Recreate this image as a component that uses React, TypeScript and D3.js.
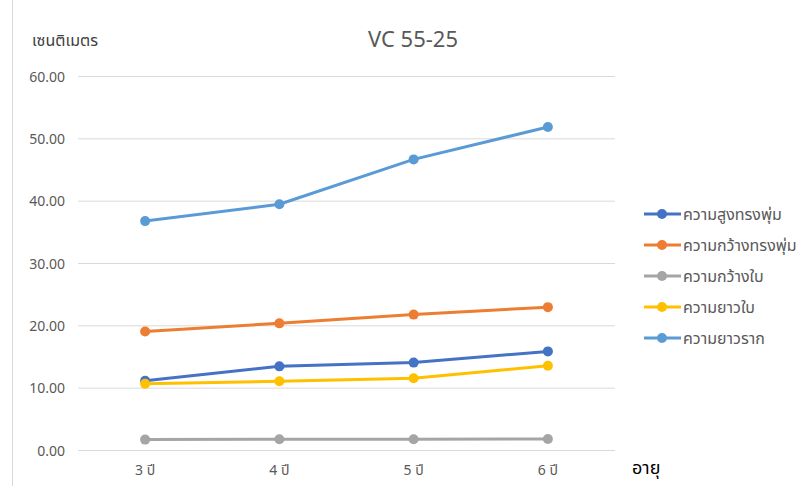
import React from "react";
import * as d3 from "d3";

const categories = ["3 ปี", "4 ปี", "5 ปี", "6 ปี"];
const seriesNames = ["ความสูงทรงพุ่ม", "ความกว้างทรงพุ่ม", "ความกว้างใบ", "ความยาวใบ", "ความยาวราก"];
const heightBush = [11.2, 13.5, 14.1, 15.9];
const widthBush = [19.1, 20.4, 21.8, 23.0];
const leafWidth = [1.75, 1.8, 1.8, 1.85];
const leafLength = [10.7, 11.1, 11.6, 13.6];
const rootLength = [36.8, 39.5, 46.7, 51.9];
const seriesColors = ["#4472C4", "#ED7D31", "#A5A5A5", "#FFC000", "#5B9BD5"];
const yTicks = [0, 10, 20, 30, 40, 50, 60];

const W = 807;
const H = 486;
const FONT = "'Segoe UI', 'Noto Sans', 'Noto Sans Thai', sans-serif";

export default function App() {
  const seriesValues = [heightBush, widthBush, leafWidth, leafLength, rootLength];
  const x = d3.scaleBand().domain(categories).range([78, 615]);
  const y = d3.scaleLinear().domain([0, 60]).range([450.5, 76.5]);
  const cx = (c: string) => (x(c) as number) + x.bandwidth() / 2;
  const line = d3
    .line<number>()
    .x((_, i) => cx(categories[i]))
    .y((d) => y(d));

  return (
    <svg
      width={W}
      height={H}
      style={{ position: "absolute", left: 0, top: 0, background: "#fff" }}
      fontFamily={FONT}
    >
      <rect x={0} y={0} width={W} height={H} fill="#fff" />
      <line x1={12.5} x2={12.5} y1={0} y2={H} stroke="#d9d9d9" strokeWidth={1} />
      <text x={413} y={47} textAnchor="middle" fontSize={22} fill="#595959">
        VC 55-25
      </text>
      <text x={32} y={46} fontSize={16} fill="#404040">
        เซนติเมตร
      </text>
      {yTicks.map((t) => (
        <g key={t}>
          <line x1={78} x2={615} y1={y(t)} y2={y(t)} stroke="#d9d9d9" strokeWidth={1} />
          <text x={65} y={y(t) + 5} textAnchor="end" fontSize={14} fill="#595959">
            {d3.format(".2f")(t)}
          </text>
        </g>
      ))}
      {categories.map((c) => (
        <text key={c} x={cx(c)} y={475} textAnchor="middle" fontSize={14} fill="#595959">
          {c}
        </text>
      ))}
      <text x={632} y={474} fontSize={18} fill="#000">
        อายุ
      </text>
      {seriesValues.map((vals, si) => (
        <g key={si}>
          <path d={line(vals) || ""} fill="none" stroke={seriesColors[si]} strokeWidth={3} strokeLinejoin="round" />
          {vals.map((v, i) => (
            <circle key={i} cx={cx(categories[i])} cy={y(v)} r={5} fill={seriesColors[si]} />
          ))}
        </g>
      ))}
      {seriesNames.map((n, i) => {
        const ly = 214 + i * 31;
        return (
          <g key={n}>
            <line x1={644} x2={681} y1={ly} y2={ly} stroke={seriesColors[i]} strokeWidth={3} />
            <circle cx={662} cy={ly} r={5} fill={seriesColors[i]} />
            <text x={683} y={ly + 6} fontSize={16} fill="#595959">
              {n}
            </text>
          </g>
        );
      })}
    </svg>
  );
}
